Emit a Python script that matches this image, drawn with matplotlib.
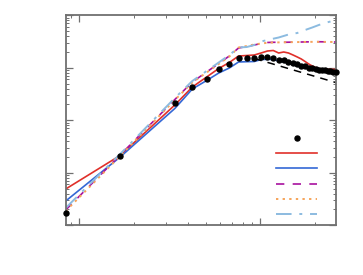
import matplotlib
matplotlib.use("Agg")
import matplotlib.pyplot as plt
from matplotlib.lines import Line2D

# measured points (black dots)
x_obs = [0.84, 1.68, 3.37, 4.21, 5.05, 5.89, 6.74, 7.58, 8.42, 9.26, 10.10,
         10.95, 11.79, 12.63, 13.47, 14.31, 15.16, 16.00, 16.84, 17.68, 18.52,
         19.37, 20.21, 21.05, 21.89, 22.73, 23.58, 24.42, 25.26, 26.10]
y_obs = [1.74, 20.6, 211, 440, 612, 961, 1197, 1571, 1504, 1504, 1607,
         1607, 1550, 1439, 1408, 1318, 1234, 1156, 1106, 1059, 1013,
         970, 948, 928, 908, 889, 869, 851, 832, 821]

# red solid
x_red = [0.84, 1.68, 3.37, 4.21, 5.05, 5.89, 6.74, 7.58, 8.42, 9.26, 10.10, 10.95,
         11.79, 12.63, 13.47, 14.31, 15.16, 16.00, 16.84, 17.68, 18.52, 19.37,
         20.21, 21.05, 21.89, 23.58, 26.10]
y_red = [4.91, 21.4, 196, 431, 668, 970, 1262, 1678, 1714, 1753, 1914, 2089,
         2136, 1914, 2000, 1914, 1753, 1607, 1472, 1318, 1181, 1082,
         1013, 970, 948, 936, 928]

# blue solid
x_blue = [0.84, 1.68, 3.37, 4.21, 5.05, 5.89, 6.74, 7.58, 8.42, 9.26, 10.10, 10.95,
          11.79, 12.63, 13.47, 14.31, 15.16, 16.00, 16.84, 18.52, 20.21, 21.89,
          23.58, 26.10]
y_blue = [2.90, 20.0, 168, 395, 573, 796, 991, 1290, 1307, 1318, 1439, 1452,
          1439, 1348, 1290, 1234, 1156, 1082, 1036, 978, 928, 889,
          869, 877]

# black dashed
x_black = [9.26, 26.10]
y_black = [1504, 525]

# magenta dashed
x_mag = [0.84, 1.68, 3.37, 4.21, 5.05, 5.89, 6.74, 7.58, 8.42, 9.26, 10.10, 10.95,
         11.79, 13.47, 16.84, 20.21, 26.10]
y_mag = [1.96, 21.8, 249, 537, 832, 1208, 1678, 2384, 2546, 2718, 2904, 3034,
         3062, 3062, 3099, 3141, 3099]

# orange dotted
x_org = [0.84, 1.68, 3.37, 4.21, 5.05, 5.89, 6.74, 7.58, 8.42, 9.26, 10.10, 10.95,
         11.79, 13.47, 16.84, 20.21, 26.10]
y_org = [1.87, 20.9, 244, 525, 813, 1181, 1641, 2436, 2602, 2780, 2904, 2993,
         3034, 3062, 3099, 3127, 3099]

# light blue dash-dot
x_lb = [0.84, 1.68, 3.37, 4.21, 5.05, 5.89, 6.74, 7.58, 8.42, 9.26, 10.10, 10.95,
        12.63, 14.31, 16.00, 17.68, 19.37, 21.05, 22.73, 24.42, 26.10]
y_lb = [2.14, 22.8, 266, 561, 869, 1262, 1753, 2436, 2489, 2718, 3170, 3388,
        3777, 4306, 4603, 5248, 5861, 6535, 7132, 7621, 8318]

c_red = "#e0302a"
c_blue = "#3468d6"
c_mag = "#a8109e"
c_org = "#f6a45a"
c_lb = "#8cbbe0"

fig = plt.figure(figsize=(3.63, 2.75), dpi=100)
ax = fig.add_axes([65.7 / 363, 1 - 225.3 / 275, (335.7 - 65.7) / 363, (225.3 - 15.3) / 275])

ax.plot(x_red, y_red, color=c_red, lw=1.2)
ax.plot(x_blue, y_blue, color=c_blue, lw=1.2)
ax.plot(x_black, y_black, color="black", lw=1.1, ls=(0, (5, 4)))
ax.plot(x_mag, y_mag, color=c_mag, lw=1.2, ls=(0, (5, 5)))
ax.plot(x_org, y_org, color=c_org, lw=1.4, ls=(0, (1.2, 2.2)))
ax.plot(x_lb, y_lb, color=c_lb, lw=1.4, ls=(0, (8, 4, 1.5, 4)))
ax.plot(x_obs, y_obs, "o", color="black", ms=3.6, clip_on=False, zorder=5)

ax.set_xscale("log")
ax.set_yscale("log")
ax.set_xlim(x_obs[0], x_obs[-1])
ax.set_ylim(1, 1e4)

for s in ax.spines.values():
    s.set_color("#707070")
    s.set_linewidth(1.3)
ax.tick_params(which="both", direction="in", top=True, right=True,
               labelbottom=False, labelleft=False, colors="#707070")
ax.tick_params(which="major", length=5, width=0.9)
ax.tick_params(which="minor", length=2.5, width=0.7)

handles = [
    Line2D([], [], ls="none", marker="o", color="black", ms=3.6),
    Line2D([], [], color=c_red, lw=1.2),
    Line2D([], [], color=c_blue, lw=1.2),
    Line2D([], [], color=c_mag, lw=1.2, ls=(0, (5, 5))),
    Line2D([], [], color=c_org, lw=1.4, ls=(0, (1.2, 2.2))),
    Line2D([], [], color=c_lb, lw=1.4, ls=(0, (8, 4, 1.5, 4))),
]
leg = fig.legend(handles, [""] * len(handles), loc="upper left",
                 bbox_to_anchor=(276 / 363, 1 - 133.5 / 275), bbox_transform=fig.transFigure,
                 frameon=False, fontsize=8, handlelength=3.7, borderpad=0,
                 borderaxespad=0, labelspacing=0.48, handletextpad=0, numpoints=1)

fig.savefig("out.png", dpi=100)
